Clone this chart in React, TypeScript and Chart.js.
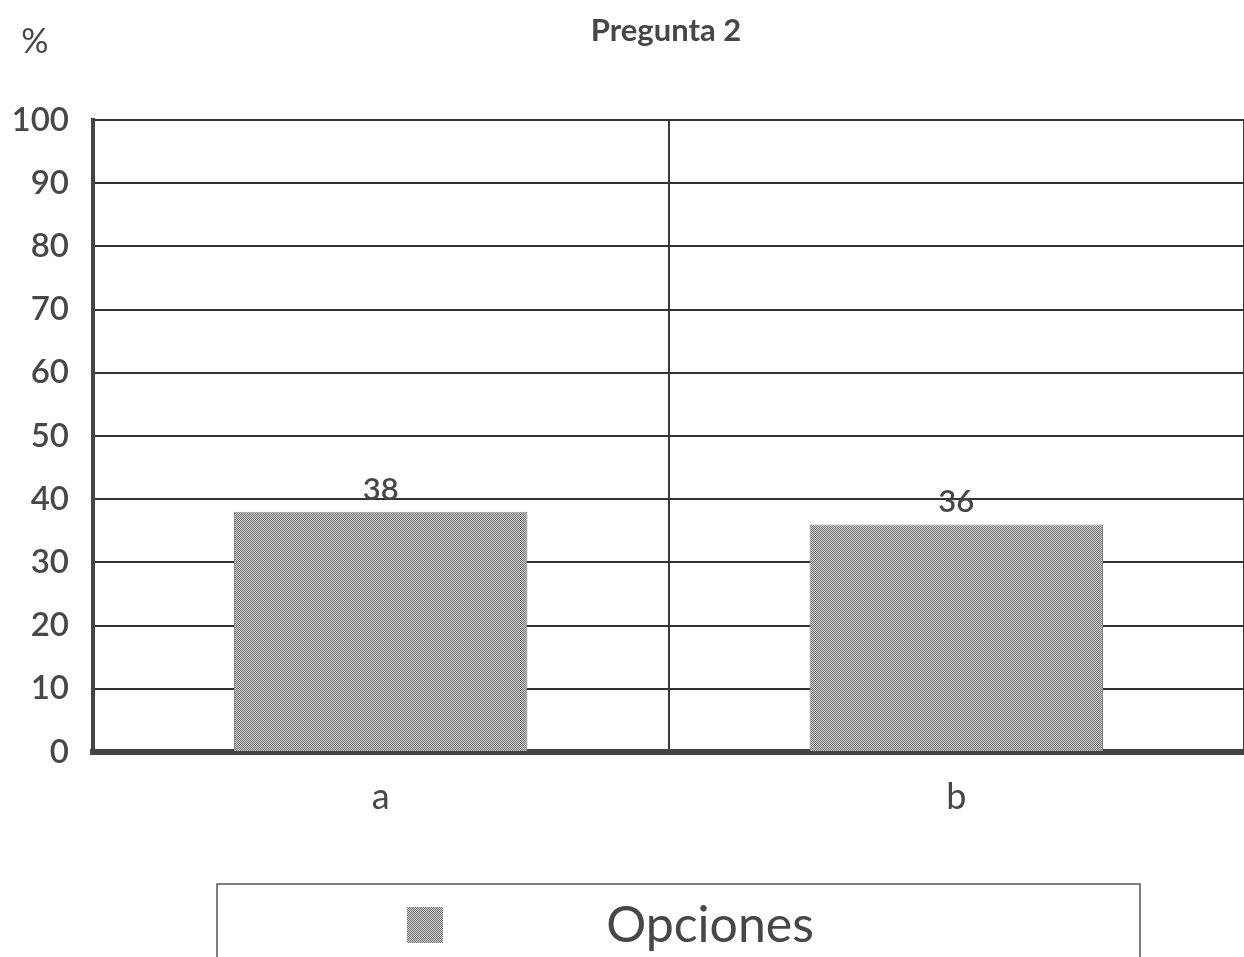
import React, { useEffect, useRef } from "react";
import { Chart, registerables } from "chart.js";

Chart.register(...registerables);

const categories = ["a", "b"];
const values = [38, 36];
const yTicks = [0, 10, 20, 30, 40, 50, 60, 70, 80, 90, 100];
const titleText = "Pregunta 2";
const yUnit = "%";
const seriesName = "Opciones";

const FONT = "Lato, 'DejaVu Sans', sans-serif";
const TEXT = "#474747";

function makePattern(ctx: CanvasRenderingContext2D) {
  const c = document.createElement("canvas");
  c.width = 2;
  c.height = 2;
  const p = c.getContext("2d")!;
  p.fillStyle = "#d8d8d8";
  p.fillRect(0, 0, 2, 2);
  p.fillStyle = "#6a6a6a";
  p.fillRect(0, 0, 1, 1);
  p.fillRect(1, 1, 1, 1);
  return ctx.createPattern(c, "repeat")!;
}

export default function App() {
  const ref = useRef<HTMLCanvasElement | null>(null);
  useEffect(() => {
    const canvas = ref.current!;
    const ctx = canvas.getContext("2d")!;
    const pattern = makePattern(ctx);

    const decor = {
      id: "decor",
      afterDatasetsDraw(chart: any) {
        const c = chart.ctx;
        const meta = chart.getDatasetMeta(0);
        c.save();
        c.fillStyle = TEXT;
        c.font = `600 31px ${FONT}`;
        c.textAlign = "center";
        c.textBaseline = "middle";
        meta.data.forEach((el: any, i: number) => {
          c.fillText(String(values[i]), el.x, el.y - 22);
        });
        c.restore();
      },
      afterDraw(chart: any) {
        const c = chart.ctx;
        c.save();
        c.fillStyle = TEXT;
        c.textBaseline = "middle";
        c.textAlign = "center";
        c.font = `bold 31px ${FONT}`;
        c.fillText(titleText, 666, 31);
        c.font = `34px ${FONT}`;
        c.fillText(yUnit, 35, 42);
        // legend box
        c.strokeStyle = "#555";
        c.lineWidth = 1.5;
        c.beginPath();
        c.moveTo(217, 957);
        c.lineTo(217, 884);
        c.lineTo(1140, 884);
        c.lineTo(1140, 957);
        c.stroke();
        c.fillStyle = pattern;
        c.fillRect(407, 907, 36, 36);
        c.fillStyle = TEXT;
        c.font = `50px ${FONT}`;
        c.textAlign = "center";
        c.fillText(seriesName, 710, 926);
        c.restore();
      },
    };

    const chart = new Chart(canvas, {
      type: "bar",
      data: {
        labels: categories,
        datasets: [
          {
            label: seriesName,
            data: values,
            backgroundColor: pattern,
            borderColor: "#8a8a8a",
            borderWidth: 1,
            barPercentage: 0.51,
            categoryPercentage: 1,
          },
        ],
      },
      options: {
        responsive: false,
        animation: false,
        layout: { padding: { top: 120, left: 0, right: 0, bottom: 0 } },
        plugins: { legend: { display: false }, title: { display: false }, tooltip: { enabled: false } },
        scales: {
          x: {
            grid: { display: true, offset: true, color: "#3a3a3a", lineWidth: 2, drawTicks: false },
            border: { display: true, color: "#444", width: 6 },
            ticks: { color: TEXT, font: { size: 36, family: FONT }, padding: 24 },
            afterFit(scale: any) {
              scale.height = 205;
            },
          },
          y: {
            min: 0,
            max: 100,
            afterBuildTicks(scale: any) {
              scale.ticks = yTicks.map((v) => ({ value: v }));
            },
            grid: { color: "#333", lineWidth: 2, drawTicks: false },
            border: { display: true, color: "#444", width: 4 },
            ticks: { color: TEXT, font: { size: 33, family: FONT, weight: "600" }, padding: 24 },
            afterFit(scale: any) {
              scale.width = 93;
            },
          },
        },
      },
      plugins: [decor],
    });
    return () => chart.destroy();
  }, []);

  return (
    <div style={{ position: "absolute", left: 0, top: 0, width: 1244, height: 957, background: "#fff" }}>
      <canvas ref={ref} width={1244} height={957} />
    </div>
  );
}
